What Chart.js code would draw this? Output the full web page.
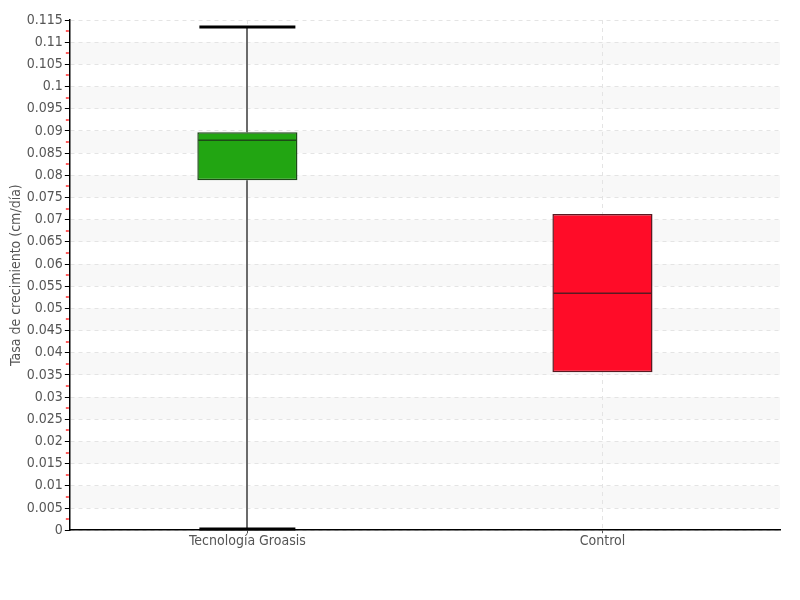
<!DOCTYPE html>
<html lang="es">
<head>
<meta charset="UTF-8" />
<title>Tasa de crecimiento</title>
<style>
    body { margin: 0; background: #ffffff; }
    #chart { display: block; }
</style>
</head>
<body>
<canvas id="chart" width="800" height="600"></canvas>
<script src="https://cdn.jsdelivr.net/npm/chart.js@4.4.1/dist/chart.umd.min.js"></script>
<script>
    const categories = ["Tecnología Groasis", "Control"];
    const whiskerMin = [0, 0.0356];
    const boxLow = [0.0789, 0.0356];
    const medians = [0.0879, 0.0534];
    const boxHigh = [0.0897, 0.0713];
    const whiskerMax = [0.1134, 0.0713];
    const boxColors = ["#22a512", "#ff0c28"];
    const boxBorders = ["#1d4a17", "#5a1a22"];

    const FONT = "'DejaVu Sans Condensed', 'Liberation Sans Narrow', sans-serif";

    // shaded bands + red minor ticks
    const bandsPlugin = {
        id: "bands",
        beforeDraw(chart) {
            const { ctx, chartArea, scales } = chart;
            const y = scales.y;
            ctx.save();
            ctx.fillStyle = "#f8f8f8";
            for (let k = 0; k < 23; k++) {
                const hi = 0.115 - k * 0.005;
                if (Math.round(hi * 1000) % 10 === 0) {
                    const yt = y.getPixelForValue(hi);
                    const yb = y.getPixelForValue(hi - 0.005);
                    ctx.fillRect(chartArea.left, yt, chartArea.right - chartArea.left, yb - yt);
                }
            }
            ctx.restore();
        },
        afterDraw(chart) {
            const { ctx, chartArea, scales } = chart;
            const y = scales.y;
            ctx.save();
            ctx.strokeStyle = "#ff2a2a";
            ctx.lineWidth = 1.5;
            for (let k = 0; k < 23; k++) {
                const py = Math.round(y.getPixelForValue(0.0025 + k * 0.005));
                ctx.beginPath();
                ctx.moveTo(chartArea.left - 4, py);
                ctx.lineTo(chartArea.left - 1, py);
                ctx.stroke();
            }
            ctx.restore();
        }
    };

    const boxPlugin = {
        id: "boxParts",
        beforeDatasetsDraw(chart) {
            const { ctx, scales } = chart;
            const x = scales.x, y = scales.y;
            ctx.save();
            ctx.strokeStyle = "#6b6b6b";
            ctx.lineWidth = 2;
            categories.forEach((c, i) => {
                const px = Math.round(x.getPixelForValue(i));
                ctx.beginPath();
                ctx.moveTo(px, y.getPixelForValue(whiskerMax[i]));
                ctx.lineTo(px, y.getPixelForValue(boxHigh[i]));
                ctx.moveTo(px, y.getPixelForValue(boxLow[i]));
                ctx.lineTo(px, y.getPixelForValue(whiskerMin[i]));
                ctx.stroke();
            });
            ctx.restore();
        },
        afterDatasetsDraw(chart) {
            const { ctx, scales } = chart;
            const x = scales.x, y = scales.y;
            const meta = chart.getDatasetMeta(0);
            ctx.save();
            categories.forEach((c, i) => {
                const half = meta.data[i].width / 2;
                const px = x.getPixelForValue(i);
                ctx.strokeStyle = boxBorders[i];
                ctx.lineWidth = 1.5;
                ctx.beginPath();
                const my = y.getPixelForValue(medians[i]);
                ctx.moveTo(px - half + 1, my);
                ctx.lineTo(px + half - 1, my);
                ctx.stroke();
                ctx.strokeStyle = "#000000";
                ctx.lineWidth = 3;
                if (whiskerMax[i] > boxHigh[i]) {
                    const ty = Math.round(y.getPixelForValue(whiskerMax[i]));
                    ctx.beginPath();
                    ctx.moveTo(px - 48, ty);
                    ctx.lineTo(px + 48, ty);
                    ctx.stroke();
                }
                if (whiskerMin[i] < boxLow[i]) {
                    const by = Math.round(y.getPixelForValue(whiskerMin[i])) - 1;
                    ctx.beginPath();
                    ctx.moveTo(px - 48, by);
                    ctx.lineTo(px + 48, by);
                    ctx.stroke();
                }
            });
            ctx.restore();
        }
    };

    new Chart(document.getElementById("chart"), {
        type: "bar",
        data: {
            labels: categories,
            datasets: [{
                data: categories.map((c, i) => [boxLow[i], boxHigh[i]]),
                backgroundColor: boxColors,
                borderColor: boxBorders,
                borderWidth: 1.5,
                borderSkipped: false,
                barPercentage: 0.282,
                categoryPercentage: 1
            }]
        },
        plugins: [bandsPlugin, boxPlugin],
        options: {
            responsive: false,
            animation: false,
            layout: { padding: { top: 20, right: 20, bottom: 50, left: 8 } },
            plugins: {
                legend: { display: false },
                tooltip: { enabled: false }
            },
            scales: {
                x: {
                    grid: {
                        offset: false,
                        color: "#e4e4e4",
                        tickColor: "#555555",
                        tickLength: 3
                    },
                    border: { color: "#000000", width: 1.5, dash: [4, 4] },
                    ticks: {
                        color: "#555555",
                        font: { family: FONT, size: 14 },
                        padding: 0
                    }
                },
                y: {
                    min: 0,
                    max: 0.115,
                    grid: {
                        color: "#e4e4e4",
                        tickColor: "#000000",
                        tickLength: 5
                    },
                    border: { color: "#000000", width: 1.5, dash: [4, 4] },
                    ticks: {
                        stepSize: 0.005,
                        color: "#555555",
                        font: { family: FONT, size: 14 },
                        padding: 2,
                        callback: (v) => String(+v.toFixed(3))
                    },
                    title: {
                        display: true,
                        text: "Tasa de crecimiento (cm/día)",
                        color: "#555555",
                        font: { family: FONT, size: 14 },
                        padding: 0
                    }
                }
            }
        }
    });
</script>
</body>
</html>
